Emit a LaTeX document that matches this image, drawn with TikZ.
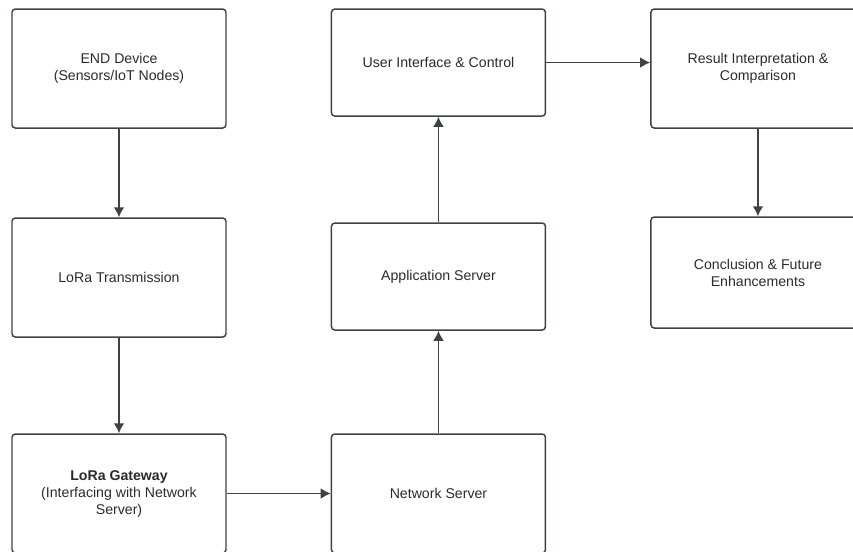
\documentclass[tikz,border=0pt]{standalone}
\usepackage{fontspec}
\setmainfont{Liberation Sans}
\usetikzlibrary{positioning,calc}
\usetikzlibrary{arrows.meta}
\definecolor{edgegray}{HTML}{3D4148}
\definecolor{textgray}{HTML}{2B2B2B}
\tikzset{main node/.style={rectangle,rounded corners=2.5pt,draw=edgegray,line width=1.1pt,fill=white,text=textgray,
    minimum width=160.5pt,minimum height=89.25pt,inner sep=2pt,align=center,
    font=\fontsize{10.6}{12.75}\selectfont},
  link/.style={->,draw=edgegray,line width=1.2pt}}

\begin{document}
\begin{tikzpicture}[>={Latex[length=7.5pt,width=8pt]},auto, on grid, ]
      \useasboundingbox (0,0) rectangle (639.75pt,-414pt);
      \node[main node] (dev) at (89.25pt,-51.4pt) {END Device\\(Sensors/IoT Nodes)};
      \node[main node] (lora) [below = 156.75pt of dev] {LoRa Transmission};
      \node[main node] (gw) [below = 162pt of lora] {\textbf{LoRa Gateway}\\(Interfacing with Network\\Server)};
      \node[main node] (ns) [right = 239.6pt of gw] {Network Server};
      \node[main node, minimum height=80.25pt] (app) [above = 162.75pt of ns] {Application Server};
      \node[main node, minimum height=80.25pt] (ui) [above = 160.5pt of app] {User Interface \& Control};
      \node[main node] (res) [right = 239.6pt of ui, yshift=-4.5pt] {Result Interpretation \&\\Comparison};
      \node[main node, minimum height=83.25pt] (conc) [below = 153pt of res] {Conclusion \& Future\\Enhancements};
      \draw[link] (dev) -- (lora);
      \draw[link] (lora) -- (gw);
      \draw[link] (gw) -- (ns);
      \draw[link] (ns) -- (app);
      \draw[link] (app) -- (ui);
      \draw[link] (ui.east) -- (ui.east -| res.west);
      \draw[link] (res) -- (conc);
    \end{tikzpicture}
\end{document}
